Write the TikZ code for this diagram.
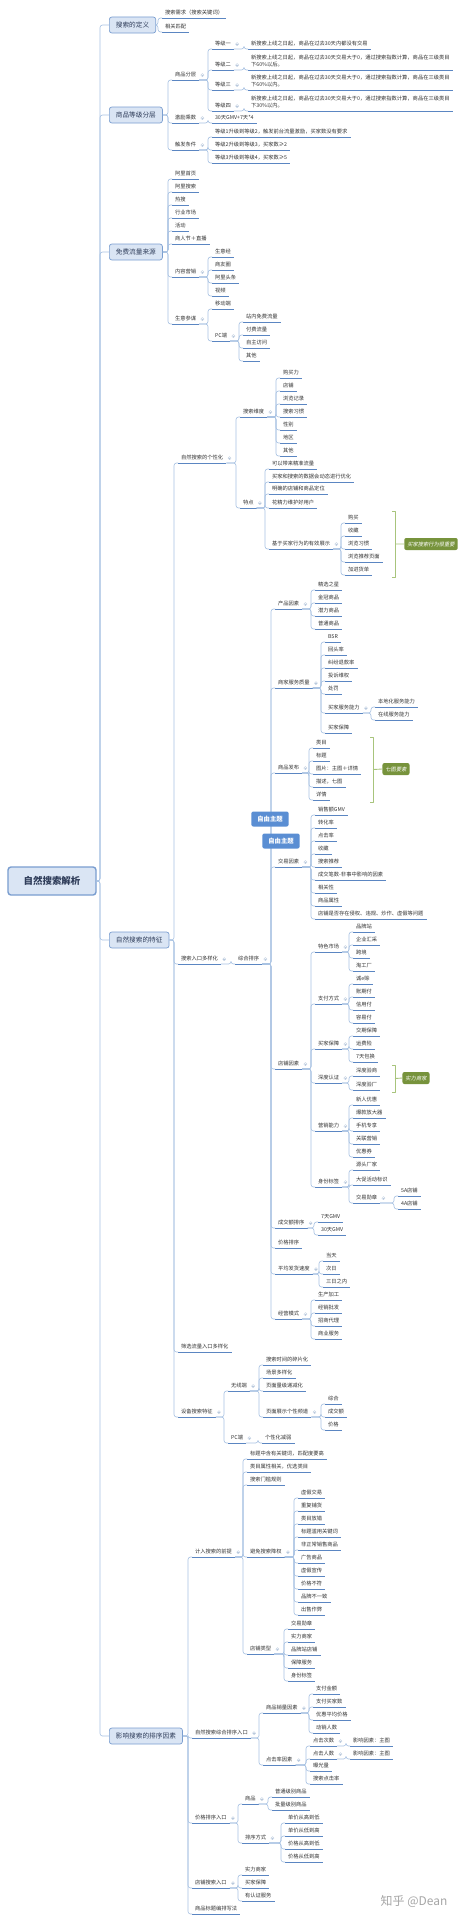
\documentclass[tikz,border=0pt]{standalone}
\usepackage{fontspec}
\setmainfont{Noto Sans CJK SC}[AutoFakeSlant=0.2]
\usepackage{tikz}
\usetikzlibrary{calc}
\definecolor{boxfill}{HTML}{DAE5F4}
\definecolor{boxline}{HTML}{7A9ED0}
\definecolor{ink}{HTML}{2F3D5A}
\definecolor{txt}{HTML}{333333}
\definecolor{uline}{HTML}{5B86C2}
\definecolor{linkc}{HTML}{A9C3E3}
\definecolor{foldc}{HTML}{B9C9DD}
\definecolor{freeblue}{HTML}{5A8ED3}
\definecolor{olive}{HTML}{77933C}
\definecolor{brkc}{HTML}{A8C47C}
\newcommand{\dn}{\rule[-7.5pt]{0pt}{7.5pt}}
\tikzset{mm/.style={x=1mm,y=-1mm,line join=round},
  rootbox/.style={draw=boxline,line width=4pt,fill=boxfill,rounded corners=3mm,text=ink,
    font=\fontsize{27}{30}\selectfont\bfseries,minimum width=88mm,minimum height=28mm},
  topic/.style={anchor=west,draw=boxline,line width=2pt,fill=boxfill,rounded corners=2.5mm,text=ink,
    font=\fontsize{19}{22}\selectfont,minimum height=16mm,inner xsep=6.5mm},
  ul/.style={draw=uline,line width=2.8pt},
  sub/.style={anchor=south west,yshift=-5mm,text=txt,font=\fontsize{15}{20.7}\selectfont,
    inner xsep=3mm,inner ysep=1pt,text height=12pt,text depth=7.5pt,
    append after command={(\tikzlastnode.south west) edge[ul] (\tikzlastnode.south east)}},
  desc/.style={anchor=south west,yshift=-5mm,text=txt,font=\fontsize{15}{20.7}\selectfont,
    inner xsep=3mm,inner ysep=1pt,align=left,
    append after command={(\tikzlastnode.south west) edge[ul] (\tikzlastnode.south east)}},
  link/.style={draw=linkc,line width=1.8pt,rounded corners=2.5mm},
  foldmark/.style={draw=foldc,fill=white,line width=1pt},
  freetopic/.style={fill=freeblue,text=white,rounded corners=2mm,font=\fontsize{18}{20}\selectfont\bfseries,
    minimum height=15mm,inner xsep=6mm},
  summ/.style={fill=olive,text=white,rounded corners=2mm,font=\fontsize{15}{18}\selectfont\itshape,
    minimum height=12mm,inner xsep=3mm},
  brk/.style={draw=brkc,line width=2.5pt}}
\newcommand{\conn}[3][south east]{\draw[link](#2.#1)--($(#2.#1 -| #3.south west)+(-4,0)$)|-(#3.south west);}
\newcommand{\rootln}[1]{\draw[link](root.east)--($(root.east -| #1.west)+(-9,0)$)|-(#1.west);}
\newcommand{\fold}[1]{\filldraw[foldmark]([shift={(3.2,-1)}]#1.east) circle (1.6);
  \draw[foldc,line width=1pt]([shift={(2.4,-1)}]#1.east)--++(1.6,0);}
\newcommand{\sumbrk}[3]{\draw[brk]([xshift=-3mm]#1)--(#1)--(#2)--([xshift=-3mm]#2);
  \draw[brk]($(#1)!.5!(#2)$)--(#3.west);}
\begin{document}
\begin{tikzpicture}[mm]
  \useasboundingbox (0,0) rectangle (464,1920);
  \fill[white] (0,0) rectangle (464,1920);
  \node[rootbox] (root) at (52,881) {自然搜索解析};
  \node[topic] (def) at (109,25) {搜索的定义};
  \node[topic] (grade) at (109,115) {商品等级分层};
  \node[topic] (src) at (109,252) {免费流量来源};
  \node[topic] (feat) at (109,940) {自然搜索的特征};
  \node[topic] (rank) at (109,1736) {影响搜索的排序因素};
  \foreach \k in {def,grade,src,feat,rank}{\rootln{\k}}
  % 搜索的定义
  \node[sub] (need) at (162,13) {搜索需求（搜索关键词）};
  \node[sub] (match) at (162,27) {相关匹配};
  \foreach \k in {need,match}{\conn[east]{def}{\k}}
  % 商品等级分层
  \node[sub] (layer) at (172,75) {商品分层};
  \node[sub] (mult) at (172,118) {激励乘数};
  \node[sub] (trig) at (172,145) {触发条件};
  \foreach \k in {layer,mult,trig}{\conn[east]{grade}{\k}}
  \node[sub] (lv1) at (212,44) {等级一};
  \node[sub] (lv2) at (212,65) {等级二};
  \node[sub] (lv3) at (212,85) {等级三};
  \node[sub] (lv4) at (212,106) {等级四};
  \foreach \k in {lv1,lv2,lv3,lv4}{\conn{layer}{\k}}
  \node[sub] (lt1) at (248,44) {新搜索上线之日起，商品在过去30天内都没有交易};
  \node[desc] (lt2) at (248,65) {新搜索上线之日起，商品在过去30天交易大于0，通过搜索指数计算，商品在三级类目\\下60\%以后。\dn};
  \node[desc] (lt3) at (248,85) {新搜索上线之日起，商品在过去30天交易大于0，通过搜索指数计算，商品在三级类目\\下60\%以内。\dn};
  \node[desc] (lt4) at (248,106) {新搜索上线之日起，商品在过去30天交易大于0，通过搜索指数计算，商品在三级类目\\下30\%以内。\dn};
  \foreach \k in {1,2,3,4}{\conn{lv\k}{lt\k}}
  \node[sub] (mult1) at (212,118) {30天GMV+7天*4};
  \conn{mult}{mult1}
  \node[sub] (trig1) at (212,132) {等级1升级到等级2，触发前台流量激励，买家数没有要求};
  \node[sub] (trig2) at (212,145) {等级2升级到等级3，买家数≥2};
  \node[sub] (trig3) at (212,158) {等级3升级到等级4，买家数≥5};
  \foreach \k in {trig1,trig2,trig3}{\conn{trig}{\k}}
  % 免费流量来源
  \node[sub] (home) at (172,174) {阿里首页};
  \node[sub] (srch) at (172,187) {阿里搜索};
  \node[sub] (hot) at (172,200) {热搜};
  \node[sub] (mkt) at (172,213) {行业市场};
  \node[sub] (act) at (172,226) {活动};
  \node[sub] (fest) at (172,239) {商人节＋直播};
  \node[sub] (cont) at (172,272) {内容营销};
  \node[sub] (sycm) at (172,319) {生意参谋};
  \foreach \k in {home,srch,hot,mkt,act,fest,cont,sycm}{\conn[east]{src}{\k}}
  \node[sub] (jing) at (212,252) {生意经};
  \node[sub] (quan) at (212,265) {商友圈};
  \node[sub] (news) at (212,278) {阿里头条};
  \node[sub] (video) at (212,291) {视频};
  \foreach \k in {jing,quan,news,video}{\conn{cont}{\k}}
  \node[sub] (mob) at (212,304) {移动端};
  \node[sub] (pc) at (212,336) {PC端};
  \foreach \k in {mob,pc}{\conn{sycm}{\k}}
  \node[sub] (pcfree) at (243,317) {站内免费流量};
  \node[sub] (paid) at (243,330) {付费流量};
  \node[sub] (self) at (243,343) {自主访问};
  \node[sub] (other) at (243,356) {其他};
  \foreach \k in {pcfree,paid,self,other}{\conn{pc}{\k}}
  % 自然搜索的特征
  \node[sub] (pers) at (178,458) {自然搜索的个性化};
  \node[sub] (entry) at (178,959) {搜索入口多样化};
  \node[sub] (filt) at (178,1347) {筛选流量入口多样化};
  \node[sub] (dev) at (178,1412) {设备搜索特征};
  \foreach \k in {pers,entry,filt,dev}{\conn[east]{feat}{\k}}
  \node[sub] (dim) at (240,412) {搜索维度};
  \node[sub] (trait) at (240,503) {特点};
  \foreach \k in {dim,trait}{\conn{pers}{\k}}
  \node[sub] (buy) at (280,373) {购买力};
  \node[sub] (shop) at (280,386) {店铺};
  \node[sub] (hist) at (280,399) {浏览记录};
  \node[sub] (habit) at (280,412) {搜索习惯};
  \node[sub] (sex) at (280,425) {性别};
  \node[sub] (area) at (280,438) {地区};
  \node[sub] (dmore) at (280,451) {其他};
  \foreach \k in {buy,shop,hist,habit,sex,area,dmore}{\conn{dim}{\k}}
  \node[sub] (tr1) at (269,464) {可以带来精准流量};
  \node[sub] (tr2) at (269,477) {买家和搜索的数据会动态进行优化};
  \node[sub] (tr3) at (269,489) {明确的店铺和商品定位};
  \node[sub] (tr4) at (269,503) {花精力维护好用户};
  \node[sub] (tr5) at (269,544) {基于买家行为的有效展示};
  \foreach \k in {tr1,tr2,tr3,tr4,tr5}{\conn{trait}{\k}}
  \node[sub] (bh1) at (345,518) {购买};
  \node[sub] (bh2) at (345,531) {收藏};
  \node[sub] (bh3) at (345,544) {浏览习惯};
  \node[sub] (bh4) at (345,557) {浏览推荐页面};
  \node[sub] (bh5) at (345,570) {加进货单};
  \foreach \k in {bh1,bh2,bh3,bh4,bh5}{\conn{tr5}{\k}}
  \coordinate (bk1a) at (395,511); \coordinate (bk1b) at (395,577);
  \node[summ] (sm1) at (431,544) {买家搜索行为很重要};
  \sumbrk{bk1a}{bk1b}{sm1}
  \node[sub] (zh) at (235,959) {综合排序};
  \conn{entry}{zh}
  \node[sub] (prod) at (275,604) {产品因素};
  \node[sub] (serv) at (275,683) {商家服务质量};
  \node[sub] (pub) at (275,768) {商品发布};
  \node[sub] (deal) at (275,862) {交易因素};
  \node[sub] (store) at (275,1064) {店铺因素};
  \node[sub] (gmv) at (275,1223) {成交额排序};
  \node[sub] (price) at (275,1243) {价格排序};
  \node[sub] (ship) at (275,1269) {平均发货速度};
  \node[sub] (mode) at (275,1314) {经营模式};
  \foreach \k in {prod,serv,pub,deal,store,gmv,price,ship,mode}{\conn{zh}{\k}}
  \node[sub] (pd1) at (315,585) {精选之星};
  \node[sub] (pd2) at (315,598) {金冠商品};
  \node[sub] (pd3) at (315,611) {潜力商品};
  \node[sub] (pd4) at (315,624) {普通商品};
  \foreach \k in {pd1,pd2,pd3,pd4}{\conn{prod}{\k}}
  \node[sub] (bsr) at (325,637) {BSR};
  \node[sub] (back) at (325,650) {回头率};
  \node[sub] (refund) at (325,663) {纠纷退款率};
  \node[sub] (comp) at (325,676) {投诉维权};
  \node[sub] (pun) at (325,689) {处罚};
  \node[sub] (cap) at (325,708) {买家服务能力};
  \node[sub] (guar) at (325,728) {买家保障};
  \foreach \k in {bsr,back,refund,comp,pun,cap,guar}{\conn{serv}{\k}}
  \node[sub] (local) at (375,702) {本地化服务能力};
  \node[sub] (online) at (375,715) {在线服务能力};
  \foreach \k in {local,online}{\conn{cap}{\k}}
  \node[sub] (cat) at (313,743) {类目};
  \node[sub] (title) at (313,756) {标题};
  \node[sub] (pic) at (313,769) {图片：主图＋详情};
  \node[sub] (descr) at (313,782) {描述，七图};
  \node[sub] (detail) at (313,795) {详情};
  \foreach \k in {cat,title,pic,descr,detail}{\conn{pub}{\k}}
  \coordinate (bk2a) at (373,737); \coordinate (bk2b) at (373,802);
  \node[summ] (sm2) at (396,769) {七图要素};
  \sumbrk{bk2a}{bk2b}{sm2}
  \node[sub] (dl1) at (315,810) {销售额GMV};
  \node[sub] (dl2) at (315,823) {转化率};
  \node[sub] (dl3) at (315,836) {点击率};
  \node[sub] (dl4) at (315,849) {收藏};
  \node[sub] (dl5) at (315,862) {搜索推荐};
  \node[sub] (dl6) at (315,875) {成交笔数-非事中影响的因素};
  \node[sub] (dl7) at (315,888) {相关性};
  \node[sub] (dl8) at (315,901) {商品属性};
  \node[sub] (dl9) at (315,914) {店铺是否存在侵权、违规、炒作、虚假等问题};
  \foreach \k in {dl1,dl2,dl3,dl4,dl5,dl6,dl7,dl8,dl9}{\conn{deal}{\k}}
  \node[sub] (smkt) at (315,947) {特色市场};
  \node[sub] (spay) at (315,999) {支付方式};
  \node[sub] (sgua) at (315,1044) {买家保障};
  \node[sub] (scert) at (315,1078) {深度认证};
  \node[sub] (spro) at (315,1126) {营销能力};
  \node[sub] (sid) at (315,1182) {身份标签};
  \foreach \k in {smkt,spay,sgua,scert,spro,sid}{\conn{store}{\k}}
  \node[sub] (brand) at (353,927) {品牌站};
  \node[sub] (ent) at (353,940) {企业汇采};
  \node[sub] (cross) at (353,953) {跨境};
  \node[sub] (fact) at (353,966) {淘工厂};
  \foreach \k in {brand,ent,cross,fact}{\conn{smkt}{\k}}
  \node[sub] (pay1) at (353,979) {诚e赊};
  \node[sub] (pay2) at (353,992) {账期付};
  \node[sub] (pay3) at (353,1005) {信用付};
  \node[sub] (pay4) at (353,1018) {容易付};
  \foreach \k in {pay1,pay2,pay3,pay4}{\conn{spay}{\k}}
  \node[sub] (sg1) at (353,1031) {交期保障};
  \node[sub] (sg2) at (353,1044) {运费险};
  \node[sub] (sg3) at (353,1057) {7天包换};
  \foreach \k in {sg1,sg2,sg3}{\conn{sgua}{\k}}
  \node[sub] (sc1) at (353,1071) {深度验商};
  \node[sub] (sc2) at (353,1085) {深度验厂};
  \foreach \k in {sc1,sc2}{\conn{scert}{\k}}
  \coordinate (bk3a) at (395,1065); \coordinate (bk3b) at (395,1092);
  \node[summ] (sm3) at (416,1078) {实力商家};
  \sumbrk{bk3a}{bk3b}{sm3}
  \node[sub] (sp1) at (353,1100) {新人优惠};
  \node[sub] (sp2) at (353,1113) {爆款放大器};
  \node[sub] (sp3) at (353,1126) {手机专享};
  \node[sub] (sp4) at (353,1139) {关联营销};
  \node[sub] (sp5) at (353,1152) {优惠券};
  \foreach \k in {sp1,sp2,sp3,sp4,sp5}{\conn{spro}{\k}}
  \node[sub] (si1) at (353,1165) {源头厂家};
  \node[sub] (si2) at (353,1180) {大促活动标识};
  \node[sub] (si3) at (353,1198) {交易勋章};
  \foreach \k in {si1,si2,si3}{\conn{sid}{\k}}
  \node[sub] (a5) at (398,1191) {5A店铺};
  \node[sub] (a4) at (398,1204) {4A店铺};
  \foreach \k in {a5,a4}{\conn{si3}{\k}}
  \node[sub] (g7) at (318,1217) {7天GMV};
  \node[sub] (g30) at (318,1230) {30天GMV};
  \foreach \k in {g7,g30}{\conn{gmv}{\k}}
  \node[sub] (day0) at (323,1256) {当天};
  \node[sub] (day1) at (323,1269) {次日};
  \node[sub] (day3) at (323,1282) {三日之内};
  \foreach \k in {day0,day1,day3}{\conn{ship}{\k}}
  \node[sub] (md1) at (315,1295) {生产加工};
  \node[sub] (md2) at (315,1308) {经销批发};
  \node[sub] (md3) at (315,1321) {招商代理};
  \node[sub] (md4) at (315,1334) {商业服务};
  \foreach \k in {md1,md2,md3,md4}{\conn{mode}{\k}}
  \node[sub] (wl) at (228,1386) {无线端};
  \node[sub] (pcs) at (228,1438) {PC端};
  \foreach \k in {wl,pcs}{\conn{dev}{\k}}
  \node[sub] (wl1) at (263,1360) {搜索时间的碎片化};
  \node[sub] (wl2) at (263,1373) {场景多样化};
  \node[sub] (wl3) at (263,1386) {页面量级递减化};
  \node[sub] (wl4) at (263,1412) {页面展示个性频道};
  \foreach \k in {wl1,wl2,wl3,wl4}{\conn{wl}{\k}}
  \node[sub] (ch1) at (325,1399) {综合};
  \node[sub] (ch2) at (325,1412) {成交额};
  \node[sub] (ch3) at (325,1425) {价格};
  \foreach \k in {ch1,ch2,ch3}{\conn{wl4}{\k}}
  \node[sub] (pcs1) at (262,1438) {个性化减弱};
  \conn{pcs}{pcs1}
  % 影响搜索的排序因素
  \node[sub] (pre) at (192,1552) {计入搜索的前提};
  \node[sub] (comp2) at (192,1733) {自然搜索综合排序入口};
  \node[sub] (pent) at (192,1818) {价格排序入口};
  \node[sub] (sent) at (192,1883) {店铺搜索入口};
  \node[sub] (tword) at (192,1909) {商品标题编排写法};
  \foreach \k in {pre,comp2,pent,sent,tword}{\conn[east]{rank}{\k}}
  \node[sub] (pr1) at (247,1454) {标题中含有关键词，匹配度要高};
  \node[sub] (pr2) at (247,1467) {类目属性相关，优选类目};
  \node[sub] (pr3) at (247,1480) {搜索门槛规则};
  \node[sub] (avoid) at (247,1552) {避免搜索降权};
  \node[sub] (stype) at (247,1649) {店铺类型};
  \foreach \k in {pr1,pr2,pr3,avoid,stype}{\conn{pre}{\k}}
  \node[sub] (av1) at (298,1493) {虚假交易};
  \node[sub] (av2) at (298,1506) {重复铺货};
  \node[sub] (av3) at (298,1519) {类目放错};
  \node[sub] (av4) at (298,1532) {标题滥用关键词};
  \node[sub] (av5) at (298,1545) {非正常销售商品};
  \node[sub] (av6) at (298,1558) {广告商品};
  \node[sub] (av7) at (298,1571) {虚假宣传};
  \node[sub] (av8) at (298,1584) {价格不符};
  \node[sub] (av9) at (298,1597) {品牌不一致};
  \node[sub] (av10) at (298,1610) {出售作弊};
  \foreach \k in {av1,av2,av3,av4,av5,av6,av7,av8,av9,av10}{\conn{avoid}{\k}}
  \node[sub] (st1) at (288,1624) {交易勋章};
  \node[sub] (st2) at (288,1637) {实力商家};
  \node[sub] (st3) at (288,1650) {品牌站店铺};
  \node[sub] (st4) at (288,1663) {保障服务};
  \node[sub] (st5) at (288,1676) {身份标签};
  \foreach \k in {st1,st2,st3,st4,st5}{\conn{stype}{\k}}
  \node[sub] (sales) at (263,1708) {商品销量因素};
  \node[sub] (ctr) at (263,1760) {点击率因素};
  \foreach \k in {sales,ctr}{\conn{comp2}{\k}}
  \node[sub] (sl1) at (313,1689) {支付金额};
  \node[sub] (sl2) at (313,1702) {支付买家数};
  \node[sub] (sl3) at (313,1715) {优惠平均价格};
  \node[sub] (sl4) at (313,1728) {动销人数};
  \foreach \k in {sl1,sl2,sl3,sl4}{\conn{sales}{\k}}
  \node[sub] (ct1) at (310,1741) {点击次数};
  \node[sub] (ct2) at (310,1754) {点击人数};
  \node[sub] (ct3) at (310,1766) {曝光量};
  \node[sub] (ct4) at (310,1779) {搜索点击率};
  \foreach \k in {ct1,ct2,ct3,ct4}{\conn{ctr}{\k}}
  \node[sub] (ct1a) at (350,1741) {影响因素：主图};
  \node[sub] (ct2a) at (350,1754) {影响因素：主图};
  \conn{ct1}{ct1a} \conn{ct2}{ct2a}
  \node[sub] (pg) at (242,1799) {商品};
  \node[sub] (porder) at (242,1838) {排序方式};
  \foreach \k in {pg,porder}{\conn{pent}{\k}}
  \node[sub] (pg1) at (272,1792) {普通级别商品};
  \node[sub] (pg2) at (272,1805) {批量级别商品};
  \foreach \k in {pg1,pg2}{\conn{pg}{\k}}
  \node[sub] (po1) at (285,1818) {单价从高到低};
  \node[sub] (po2) at (285,1831) {单价从低到高};
  \node[sub] (po3) at (285,1844) {价格从高到低};
  \node[sub] (po4) at (285,1857) {价格从低到高};
  \foreach \k in {po1,po2,po3,po4}{\conn{porder}{\k}}
  \node[sub] (se1) at (242,1870) {实力商家};
  \node[sub] (se2) at (242,1883) {买家保障};
  \node[sub] (se3) at (242,1896) {有认证服务};
  \foreach \k in {se1,se2,se3}{\conn{sent}{\k}}
  \foreach \k in {layer,lv1,lv2,lv3,lv4,mult,trig,cont,sycm,pc,pers,dim,trait,tr5,entry,zh,
    prod,serv,cap,pub,deal,store,smkt,spay,sgua,scert,spro,sid,si3,gmv,ship,mode,dev,wl,wl4,pcs,
    pre,avoid,stype,comp2,sales,ctr,ct1,ct2,pent,pg,porder,sent}{\fold{\k}}
  \node[freetopic] (fz1) at (270,819) {自由主题};
  \node[freetopic] (fz2) at (281,841) {自由主题};
  \node[text=black!35,font=\fontsize{34}{36}\selectfont] (wm) at (414,1901) {知乎 @Dean};
\end{tikzpicture}
\end{document}
